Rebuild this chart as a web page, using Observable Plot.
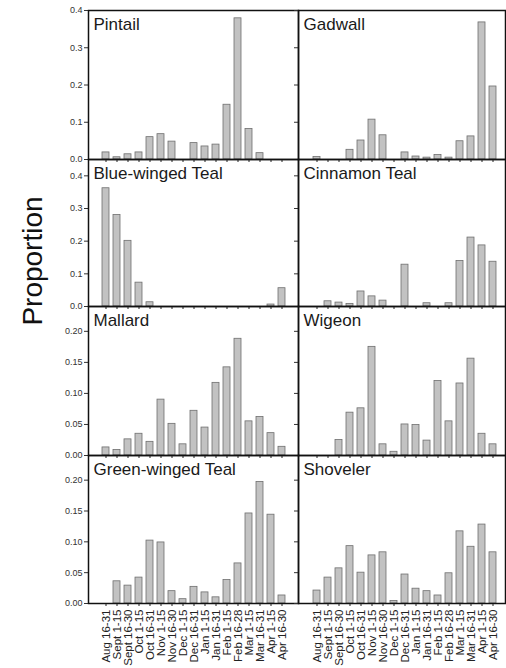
<!DOCTYPE html>
<html>
<head>
<meta charset="utf-8">
<script src="https://cdn.jsdelivr.net/npm/d3@7"></script>
<script src="https://cdn.jsdelivr.net/npm/@observablehq/plot@0.6"></script>
<style>
  html, body { margin: 0; padding: 0; background: white; overflow: hidden; }
  #wrap { position: relative; width: 506px; height: 668px; overflow: hidden; font-family: "Liberation Sans", Arial, sans-serif; }
  #wrap .panel { position: absolute; }
  #ylab { position: absolute; left: 33px; top: 261px; transform: translate(-50%, -50%) rotate(-90deg); font-size: 28px; color: #111; white-space: nowrap; }
</style>
</head>
<body>
<div id="wrap"><div id="ylab">Proportion</div></div>
<script>
const categories = ["Aug 16-31","Sept 1-15","Sept 16-30","Oct 1-15","Oct 16-31","Nov 1-15","Nov 16-30","Dec 1-15","Dec 16-31","Jan 1-15","Jan 16-31","Feb 1-15","Feb 16-28","Mar 1-15","Mar 16-31","Apr 1-15","Apr 16-30"];

const pintail        = [0.019,0.006,0.014,0.019,0.060,0.068,0.048,0,0.044,0.035,0.040,0.147,0.379,0.082,0.017,0,0];
const gadwall        = [0.007,0,0,0.026,0.051,0.107,0.065,0,0.019,0.008,0.005,0.012,0.005,0.049,0.062,0.368,0.196];
const blueWingedTeal = [0.362,0.280,0.201,0.073,0.013,0,0,0,0,0,0,0,0,0,0,0.006,0.056];
const cinnamonTeal   = [0,0.016,0.012,0.008,0.046,0.031,0.018,0,0.128,0,0.010,0,0.010,0.139,0.211,0.187,0.137];
const mallard        = [0.013,0.009,0.026,0.035,0.022,0.090,0.051,0.018,0.072,0.045,0.117,0.142,0.188,0.055,0.062,0.036,0.014];
const wigeon         = [0,0,0.025,0.069,0.076,0.175,0.018,0.006,0.050,0.049,0.024,0.120,0.055,0.116,0.156,0.035,0.018];
const greenWingedTeal= [0,0.036,0.029,0.042,0.102,0.099,0.020,0.007,0.027,0.018,0.010,0.038,0.065,0.146,0.197,0.144,0.013];
const shoveler       = [0.021,0.042,0.057,0.093,0.050,0.078,0.083,0.004,0.047,0.024,0.020,0.013,0.049,0.117,0.092,0.128,0.083];

const speciesNames = ["Pintail","Gadwall","Blue-winged Teal","Cinnamon Teal","Mallard","Wigeon","Green-winged Teal","Shoveler"];
const speciesValues = [pintail, gadwall, blueWingedTeal, cinnamonTeal, mallard, wigeon, greenWingedTeal, shoveler];

const ticksTop = [0, 0.1, 0.2, 0.3, 0.4];
const ticksBottom = [0, 0.05, 0.10, 0.15, 0.20];
const rowDomains = [[0, 0.4], [0, 0.45], [0, 0.24], [0, 0.24]];
const rowTicks = [ticksTop, ticksTop, ticksBottom, ticksBottom];
const rowFormats = [".1f", ".1f", ".2f", ".2f"];

// layout (pixels)
const frameTops = [10, 159, 306, 455];
const frameBottoms = [159, 306, 455, 603];
const colFrameLeft = [88, 298];
const colFrameRight = [298, 505];
const colMarginLeft = [36, 5];
const colInsets = [[6, 4], [7, 1]];
const mTop = 6;

const wrap = document.getElementById("wrap");

speciesNames.forEach((name, i) => {
  const row = Math.floor(i / 2), col = i % 2;
  const isBottom = row === 3;
  const mL = colMarginLeft[col];
  const mR = 1;
  const mB = isBottom ? 66 : 3;
  const innerW = colFrameRight[col] - colFrameLeft[col];
  const innerH = frameBottoms[row] - frameTops[row];
  const data = categories.map((c, k) => ({cat: c, v: speciesValues[i][k]}));
  const fmt = d3.format(rowFormats[row]);

  const chart = Plot.plot({
    width: mL + innerW + mR,
    height: mTop + innerH + mB,
    marginLeft: mL, marginRight: mR, marginTop: mTop, marginBottom: mB,
    style: {background: "transparent", fontFamily: "'Liberation Sans', Arial, sans-serif", overflow: "visible"},
    x: {domain: categories, padding: 0.32, insetLeft: colInsets[col][0], insetRight: colInsets[col][1], axis: null},
    y: {domain: rowDomains[row], axis: null},
    marks: [
      Plot.barY(data, {x: "cat", y: "v", fill: "#c2c2c2", stroke: "#6f6f6f", strokeWidth: 0.8}),
      Plot.axisY({ticks: rowTicks[row], tickFormat: col === 0 ? fmt : () => "", tickSize: 4, tickPadding: 2, fontSize: 9, color: "#333", label: null}),
      Plot.axisX({tickSize: 3, tickFormat: isBottom ? (d => d) : () => "", tickRotate: isBottom ? -90 : 0, tickPadding: 3, fontSize: 11.5, color: "#222", label: null}),
      Plot.frame({stroke: "#111", strokeWidth: 1.5}),
      Plot.text([name], {text: d => d, frameAnchor: "top-left", dx: 5, dy: 7, lineAnchor: "top", textAnchor: "start", fontSize: 17, fill: "#1a1a1a"})
    ]
  });
  chart.classList.add("panel");
  chart.style.left = (colFrameLeft[col] - mL) + "px";
  chart.style.top = (frameTops[row] - mTop) + "px";
  wrap.appendChild(chart);
});
</script>
</body>
</html>
